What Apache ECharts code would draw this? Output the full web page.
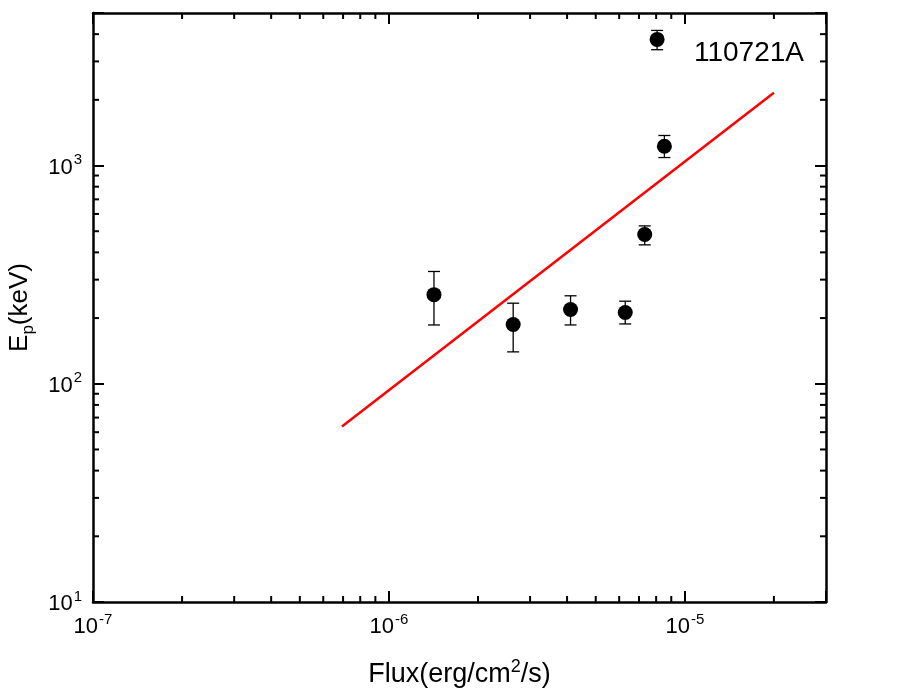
<!DOCTYPE html>
<html>
<head>
<meta charset="utf-8">
<script src="https://cdn.jsdelivr.net/npm/echarts@6/dist/echarts.min.js"></script>
<style>
  html, body { margin: 0; padding: 0; background: #fff; }
  #chart { width: 917px; height: 695px; }
</style>
</head>
<body>
<div id="chart"></div>
<script>
// GRB 110721A, Ep vs flux
const fluxVals = [1.42e-6, 2.63e-6, 4.11e-6, 6.29e-6, 7.32e-6, 8.53e-6, 8.06e-6]
const epVals = [256, 187, 219, 212, 483, 1226, 3784]
const epLow = [186, 140, 186, 188, 433, 1088, 3394]
const epHigh = [327, 234, 253, 239, 529, 1373, 4160]

// fitted power law, end points
const fitFlux = [6.94e-7, 2.0e-5]
const fitEp = [63.7, 2156]

const xMin = 1e-7
const xMax = 3e-5
const yMin = 10
const yMax = 5000

const grbName = '110721A'

const font = '"Liberation Sans", Arial, sans-serif'

// minor ticks 2..9 x 10^k inside the axis range
function minorList(lo, hi) {
  const out = []
  for (let e = Math.floor(Math.log10(lo)); e <= Math.ceil(Math.log10(hi)); e++) {
    for (let m = 2; m <= 9; m++) {
      const v = m * Math.pow(10, e)
      if (v > lo * 1.0001 && v < hi * 0.9999) out.push(v)
    }
  }
  return out
}
const minorX = minorList(xMin, xMax)
const minorY = minorList(yMin, yMax)

function powLabel(v) {
  const e = Math.log10(v)
  if (Math.abs(e - Math.round(e)) > 1e-6) return ''
  return '{b|10}{s|' + Math.round(e) + '}'
}

const labelRich = {
  b: { fontSize: 22, fontFamily: font, color: '#000', verticalAlign: 'bottom', lineHeight: 26 },
  s: { fontSize: 15, fontFamily: font, color: '#000', verticalAlign: 'top', lineHeight: 26, padding: [0, 0, 0, 1] }
}

const chart = echarts.init(document.getElementById('chart'))

function axisBase() {
  return {
    type: 'log',
    logBase: 10,
    splitLine: { show: false },
    axisLine: { show: true, onZero: false, lineStyle: { color: '#000', width: 2.5 } },
    axisTick: { show: true, inside: true, length: 11, lineStyle: { color: '#000', width: 2 } },
    minorTick: { show: false }
  }
}

const xBottom = Object.assign(axisBase(), {
  min: xMin,
  max: xMax,
  position: 'bottom',
  name: '{a|Flux(erg/cm}{s|2}{a|/s)}',
  nameLocation: 'middle',
  nameGap: 56,
  nameTextStyle: {
    rich: {
      a: { fontSize: 27, fontFamily: font, color: '#000', verticalAlign: 'bottom', lineHeight: 30 },
      s: { fontSize: 18, fontFamily: font, color: '#000', verticalAlign: 'top', lineHeight: 30 }
    }
  },
  axisLabel: { margin: 10, fontSize: 22, formatter: powLabel, rich: labelRich }
})
const xTop = Object.assign(axisBase(), {
  min: xMin, max: xMax, position: 'top', axisLabel: { show: false }
})
const yLeft = Object.assign(axisBase(), {
  min: yMin,
  max: yMax,
  position: 'left',
  name: '{a|E}{p|p}{a|(keV)}',
  nameLocation: 'middle',
  nameRotate: 90,
  nameGap: 52,
  nameTextStyle: {
    rich: {
      a: { fontSize: 26, fontFamily: font, color: '#000', verticalAlign: 'top', lineHeight: 30 },
      p: { fontSize: 17, fontFamily: font, color: '#000', verticalAlign: 'bottom', lineHeight: 30 }
    }
  },
  axisLabel: { margin: 11, fontSize: 22, formatter: powLabel, rich: labelRich }
})
const yRight = Object.assign(axisBase(), {
  min: yMin, max: yMax, position: 'right', axisLabel: { show: false }
})

chart.setOption({
  backgroundColor: '#fff',
  animation: false,
  title: {
    text: grbName,
    right: 108,
    top: 34,
    textStyle: { fontSize: 28, fontWeight: 'normal', fontFamily: font, color: '#000' }
  },
  grid: { left: 93, right: 91, top: 13, bottom: 93, containLabel: false, outerBoundsMode: 'none' },
  xAxis: [xBottom, xTop],
  yAxis: [yLeft, yRight],
  series: [
    {
      // minor ticks on bottom and top
      type: 'custom',
      silent: true,
      data: minorX.map(v => [v, yMin]),
      renderItem(params, api) {
        const cs = params.coordSys
        const px = api.coord([api.value(0), yMin])[0]
        const st = { stroke: '#000', lineWidth: 2 }
        return {
          type: 'group',
          children: [
            { type: 'line', shape: { x1: px, y1: cs.y + cs.height, x2: px, y2: cs.y + cs.height - 6 }, style: st },
            { type: 'line', shape: { x1: px, y1: cs.y, x2: px, y2: cs.y + 6 }, style: st }
          ]
        }
      }
    },
    {
      // minor ticks on left and right
      type: 'custom',
      silent: true,
      data: minorY.map(v => [xMin, v]),
      renderItem(params, api) {
        const cs = params.coordSys
        const py = api.coord([xMin, api.value(1)])[1]
        const st = { stroke: '#000', lineWidth: 2 }
        return {
          type: 'group',
          children: [
            { type: 'line', shape: { x1: cs.x, y1: py, x2: cs.x + 6, y2: py }, style: st },
            { type: 'line', shape: { x1: cs.x + cs.width, y1: py, x2: cs.x + cs.width - 6, y2: py }, style: st }
          ]
        }
      }
    },
    {
      type: 'line',
      data: fitFlux.map((x, i) => [x, fitEp[i]]),
      symbol: 'none',
      lineStyle: { color: '#ff0000', width: 2.5 },
      z: 3
    },
    {
      // error bars
      type: 'custom',
      data: fluxVals.map((x, i) => [x, epLow[i], epHigh[i]]),
      renderItem(params, api) {
        const lo = api.coord([api.value(0), api.value(1)])
        const hi = api.coord([api.value(0), api.value(2)])
        const w = 6
        const st = { stroke: '#000', lineWidth: 1.3 }
        return {
          type: 'group',
          children: [
            { type: 'line', shape: { x1: lo[0], y1: lo[1], x2: hi[0], y2: hi[1] }, style: st },
            { type: 'line', shape: { x1: lo[0] - w, y1: lo[1], x2: lo[0] + w, y2: lo[1] }, style: st },
            { type: 'line', shape: { x1: hi[0] - w, y1: hi[1], x2: hi[0] + w, y2: hi[1] }, style: st }
          ]
        }
      },
      z: 4
    },
    {
      type: 'scatter',
      data: fluxVals.map((x, i) => [x, epVals[i]]),
      symbol: 'circle',
      symbolSize: 15,
      itemStyle: { color: '#000', opacity: 1 },
      z: 5
    }
  ]
})
</script>
</body>
</html>
